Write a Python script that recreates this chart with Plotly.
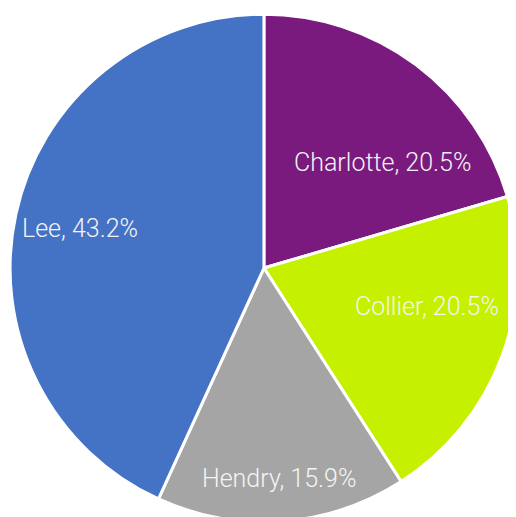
import math
import plotly.graph_objects as go

labels = ["Charlotte", "Collier", "Hendry", "Lee"]
values = [9, 9, 7, 19]
colors = ["#7A1A7F", "#C5F000", "#A5A5A5", "#4472C4"]
# label placement (layout only): fraction of radius and angular nudge in degrees
label_radius = [0.625, 0.66, 0.83, 0.74]
label_shift = [11.3, -7.3, 0.0, 0.0]

W, H = 516, 517
dom_x = [0.004, 0.988]
dom_y = [0.006, 0.988]

fig = go.Figure(go.Pie(
    labels=labels,
    values=values,
    sort=False,
    direction="clockwise",
    rotation=0,
    marker=dict(colors=colors, line=dict(color="white", width=3)),
    textinfo="none",
    domain=dict(x=dom_x, y=dom_y),
    hoverinfo="label+percent",
))

total = sum(values)
cx = (dom_x[0] + dom_x[1]) / 2
cy = (dom_y[0] + dom_y[1]) / 2
r_px = min((dom_x[1] - dom_x[0]) * W, (dom_y[1] - dom_y[0]) * H) / 2
cum = 0
annotations = []
for lab, v, f, s in zip(labels, values, label_radius, label_shift):
    mid = (cum + v / 2) / total * 2 * math.pi + math.radians(s)
    cum += v
    dx = math.sin(mid) * r_px * f
    dy = math.cos(mid) * r_px * f
    annotations.append(dict(
        x=cx + dx / W, y=cy + dy / H, xref="paper", yref="paper",
        text=f"{lab}, {v / total * 100:.1f}%", showarrow=False,
        font=dict(family="Roboto Light, Roboto", size=25, color="#F4F4F4", weight=300),
        xanchor="center", yanchor="middle",
    ))

fig.update_layout(
    width=W, height=H,
    margin=dict(l=0, r=0, t=0, b=0),
    showlegend=False,
    paper_bgcolor="white",
    annotations=annotations,
)
fig.write_html("out.html")
